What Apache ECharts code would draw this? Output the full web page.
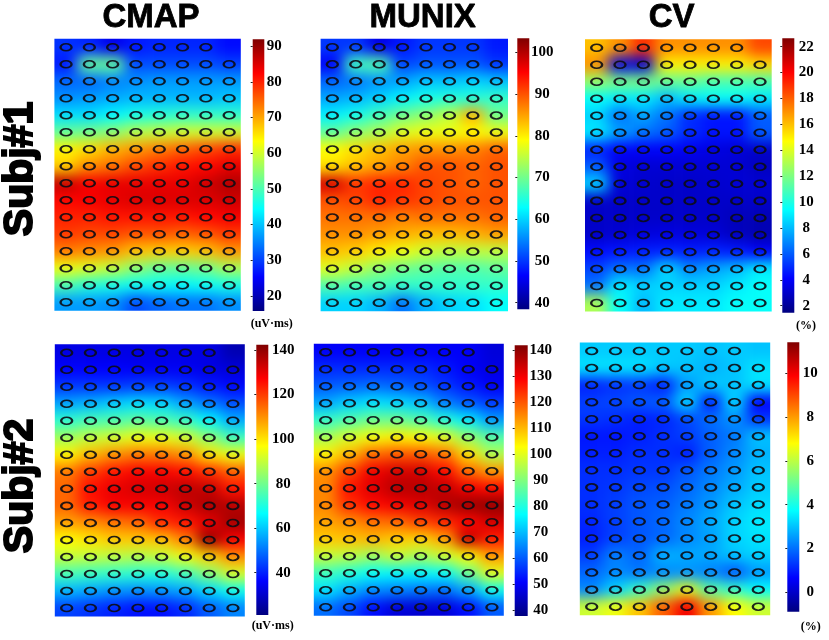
<!DOCTYPE html>
<html>
<head>
<meta charset="utf-8">
<script src="https://cdn.jsdelivr.net/npm/echarts@6/dist/echarts.min.js"></script>
<style>
  html, body { margin: 0; padding: 0; background: #fff; }
  #page { position: relative; width: 829px; height: 640px; overflow: hidden; }
  #heatClip, #heat, #overlay { position: absolute; left: 0; top: 0; width: 829px; height: 640px; }
  #heat { filter: blur(7px); }
</style>
</head>
<body>
<div id="page">
  <div id="heatClip"><div id="heat"></div></div>
  <div id="overlay"></div>
</div>
<script>
var electrodeCols = ['1', '2', '3', '4', '5', '6', '7', '8'];
var electrodeRows = ['1', '2', '3', '4', '5', '6', '7', '8', '9', '10', '11', '12', '13', '14', '15', '16'];
var columnTitles = ['CMAP', 'MUNIX', 'CV'];
var rowTitles = ['Subj#1', 'Subj#2'];

var cmapSubj1 = [
  [29, 28, 24, 27, 28, 28, 28, 26],
  [27, 52, 52, 31, 31, 31, 31, 30],
  [33, 33, 35, 36, 37, 37, 37, 37],
  [36, 37, 38, 39, 39, 39, 39, 40],
  [42, 42, 44, 46, 47, 48, 48, 48],
  [52, 53, 55, 58, 59, 60, 60, 60],
  [64, 66, 69, 71, 73, 75, 77, 79],
  [67, 72, 74, 77, 79, 81, 82, 84],
  [87, 83, 84, 84, 84, 84, 86, 88],
  [82, 83, 84, 85, 85, 85, 85, 86],
  [80, 80, 81, 81, 81, 81, 82, 83],
  [78, 77, 77, 76, 76, 75, 76, 78],
  [73, 72, 71, 68, 67, 67, 68, 71],
  [62, 61, 59, 55, 52, 52, 53, 57],
  [50, 47, 46, 45, 45, 44, 45, 46],
  [37, 37, 36, 31, 33, 34, 34, 36]
];
var munixSubj1 = [
  [50, 50, 45, 48, 50, 50, 50, 48],
  [46, 67, 68, 51, 52, 52, 52, 50],
  [53, 54, 56, 57, 59, 59, 60, 59],
  [57, 58, 60, 62, 64, 65, 65, 66],
  [62, 64, 67, 70, 72, 75, 84, 70],
  [69, 72, 74, 77, 78, 78, 79, 78],
  [79, 81, 83, 85, 86, 86, 87, 89],
  [81, 83, 85, 87, 90, 90, 89, 90],
  [98, 92, 93, 93, 91, 90, 89, 90],
  [90, 91, 93, 92, 91, 90, 90, 90],
  [88, 88, 88, 87, 88, 88, 88, 89],
  [86, 86, 85, 84, 83, 83, 84, 85],
  [83, 82, 80, 78, 76, 75, 75, 75],
  [77, 75, 72, 70, 69, 68, 68, 69],
  [68, 67, 67, 66, 66, 66, 66, 66],
  [60, 60, 58, 54, 58, 60, 61, 63]
];
var cvSubj1 = [
  [16, 17, 19, 17, 17, 17, 17, 18.5],
  [17, 3.5, 3.2, 15, 15, 15, 15, 15.5],
  [12.5, 12, 12, 11.5, 11.5, 11, 11, 11],
  [9.5, 9, 9, 8, 9, 9.5, 9.5, 9],
  [8.5, 6.5, 7.5, 6.5, 5, 4.5, 4.5, 6],
  [9, 7.5, 6.5, 6, 5, 4.5, 4.5, 6],
  [4.8, 4, 4, 4, 3.8, 3.5, 3.3, 3],
  [6, 3.5, 3.2, 3.2, 3.2, 3.2, 3.2, 2.8],
  [8.5, 3.3, 3.1, 3, 3, 3.1, 3.2, 3.2],
  [3, 3, 3, 3, 3, 3, 3, 3],
  [3, 3, 3, 3, 3, 3, 2.7, 2.6],
  [3, 3.2, 3.4, 3.5, 3.4, 3.3, 2.8, 2.5],
  [4.3, 4.5, 4.7, 4.8, 4.7, 4.8, 4.6, 4],
  [5.5, 6.5, 6.5, 8.5, 7, 7.5, 8, 9],
  [6.5, 9, 8.5, 8.5, 8.5, 8.5, 9, 9.5],
  [13, 9.5, 8, 9, 9, 9, 9.5, 9.5]
];
var cmapSubj2 = [
  [33, 33, 33, 33, 33, 33, 33, 27],
  [36, 36, 36, 35, 35, 35, 33, 32],
  [43, 43, 43, 44, 44, 42, 39, 37],
  [56, 58, 61, 63, 62, 56, 51, 46],
  [72, 75, 76, 78, 76, 73, 66, 57],
  [86, 90, 92, 95, 95, 92, 84, 74],
  [98, 105, 110, 113, 113, 110, 100, 95],
  [113, 120, 125, 128, 128, 126, 122, 116],
  [115, 126, 130, 132, 133, 135, 134, 125],
  [115, 124, 128, 128, 128, 133, 137, 136],
  [108, 110, 113, 115, 122, 125, 130, 138],
  [97, 100, 103, 103, 104, 112, 140, 128],
  [90, 90, 89, 88, 90, 95, 102, 110],
  [75, 73, 72, 71, 70, 74, 82, 92],
  [58, 56, 54, 53, 54, 56, 62, 68],
  [44, 42, 40, 38, 38, 41, 47, 52]
];
var munixSubj2 = [
  [50, 50, 50, 50, 50, 50, 50, 47],
  [55, 55, 55, 55, 55, 53, 50, 48],
  [60, 61, 62, 61, 59, 56, 53, 50],
  [68, 72, 74, 73, 71, 64, 60, 57],
  [82, 85, 88, 88, 85, 80, 75, 67],
  [94, 99, 102, 104, 103, 100, 92, 85],
  [104, 110, 118, 120, 120, 117, 106, 95],
  [114, 122, 130, 133, 133, 128, 118, 113],
  [115, 127, 132, 136, 136, 135, 130, 128],
  [115, 124, 128, 130, 132, 136, 139, 140],
  [112, 114, 117, 118, 122, 125, 128, 133],
  [108, 109, 110, 108, 107, 112, 135, 126],
  [97, 96, 93, 97, 94, 98, 103, 113],
  [83, 80, 77, 76, 76, 77, 87, 100],
  [74, 69, 65, 64, 63, 62, 68, 78],
  [62, 58, 52, 47, 46, 47, 52, 60]
];
var cvSubj2 = [
  [3.1, 3.1, 3.1, 3.1, 3.1, 3, 3.1, 3],
  [3.4, 3.4, 3.4, 3.1, 3, 2.8, 3, 3.4],
  [1, 1.2, 1.3, 1, 2.5, 3.1, 3, 3.4],
  [1.4, 1.5, 1.7, 1.8, 3.2, 1, 3.2, 0.6],
  [1.3, 1.2, 1, 1.1, 1.5, 2, 2.4, 1.3],
  [0.9, 0.9, 1, 1.2, 1.4, 1.8, 2.1, 3],
  [1, 1, 1.2, 1.2, 1, 1.8, 2.3, 2.8],
  [1.2, 1.2, 1.3, 1.3, 1.7, 2.1, 2.5, 3],
  [1.2, 1.3, 1.5, 1.6, 1.9, 2.3, 2.7, 3.1],
  [1.2, 1.4, 1.7, 1.8, 2.1, 2.5, 3, 3.3],
  [1.1, 1.4, 1.7, 1.9, 2.3, 2.7, 3.2, 3.5],
  [1, 1.4, 1.7, 1.9, 2.3, 2.6, 3.2, 3.4],
  [1.4, 2.2, 1.9, 2.8, 2.7, 2.7, 3, 3.2],
  [1.9, 2.3, 2.1, 2.3, 2.4, 2.2, 1.7, 2.5],
  [2.3, 3.2, 4.4, 5.5, 6.5, 4.8, 4.3, 3.7],
  [6.2, 6.6, 7.5, 8.7, 10, 8, 6.8, 6.2]
];

var ticksCmap1 = [20, 30, 40, 50, 60, 70, 80, 90];
var ticksMunix1 = [40, 50, 60, 70, 80, 90, 100];
var ticksCv1 = [2, 4, 6, 8, 10, 12, 14, 16, 18, 20, 22];
var ticksCmap2 = [40, 60, 80, 100, 120, 140];
var ticksMunix2 = [40, 50, 60, 70, 80, 90, 100, 110, 120, 130, 140];
var ticksCv2 = [0, 2, 4, 6, 8, 10];

var jet = ['#00007f', '#0000ff', '#007fff', '#00ffff', '#7fff7f', '#ffff00', '#ff7f00', '#ff0000', '#7f0000'];

// one entry per panel, left to right then second row
var panels = [
  { data: cmapSubj1,  ticks: ticksCmap1,  min: 15.8,  max: 91.9,  rect: [54.4, 38.8, 186.4, 272],   bar: [252.7, 39.3, 11.6, 271.7], gap: 10 },
  { data: munixSubj1, ticks: ticksMunix1, min: 38.4,  max: 103.4, rect: [320.6, 38.8, 187.4, 272.4], bar: [517.3, 38.3, 12, 271],    gap: 13 },
  { data: cvSubj1,    ticks: ticksCv1,    min: 1.46,  max: 22.65, rect: [585, 39.2, 186.7, 272.3],  bar: [782.3, 38.3, 12, 274.4],   gap: 12 },
  { data: cmapSubj2,  ticks: ticksCmap2,  min: 21,    max: 142.4, rect: [54.8, 344.2, 190, 272.3],  bar: [256.3, 344.7, 12, 270.3],  gap: 15 },
  { data: munixSubj2, ticks: ticksMunix2, min: 37.7,  max: 141.8, rect: [313.8, 343.8, 190, 272],   bar: [514.7, 345.3, 13, 270.7],  gap: 13 },
  { data: cvSubj2,    ticks: ticksCv2,    min: -0.88, max: 11.4,  rect: [579.8, 342.5, 190.4, 272.7], bar: [787.3, 342.3, 12, 269.4], gap: 11 }
];

// heat cells get one extra cell round the edge (nearest value) so the blur
// does not fade out to white inside the clipped panel
function paddedCells(matrix) {
  var out = [];
  for (var r = -1; r <= electrodeRows.length; r++) {
    for (var c = -1; c <= electrodeCols.length; c++) {
      var rr = Math.max(0, Math.min(electrodeRows.length - 1, r));
      var cc = Math.max(0, Math.min(electrodeCols.length - 1, c));
      out.push([c + 1, r + 1, matrix[rr][cc]]);
    }
  }
  return out;
}

var paddedX = [''].concat(electrodeCols, ['']);
var paddedY = [''].concat(electrodeRows, ['']);

var heatOption = { animation: false, grid: [], xAxis: [], yAxis: [], visualMap: [], series: [] };
var clipPath = '';
panels.forEach(function (p, i) {
  var r = p.rect;
  var cw = r[2] / electrodeCols.length, ch = r[3] / electrodeRows.length;
  clipPath += 'M' + r[0] + ' ' + r[1] + 'H' + (r[0] + r[2]) + 'V' + (r[1] + r[3]) + 'H' + r[0] + 'Z';
  heatOption.grid.push({ left: r[0] - cw, top: r[1] - ch, width: r[2] + 2 * cw, height: r[3] + 2 * ch });
  heatOption.xAxis.push({ type: 'category', gridIndex: i, data: paddedX, show: false });
  heatOption.yAxis.push({ type: 'category', gridIndex: i, data: paddedY, inverse: true, show: false });
  heatOption.visualMap.push({ show: false, seriesIndex: i, min: p.min, max: p.max, dimension: 2, inRange: { color: jet } });
  heatOption.series.push({ type: 'heatmap', xAxisIndex: i, yAxisIndex: i, data: paddedCells(p.data), silent: true, progressive: 0 });
});
document.getElementById('heatClip').style.clipPath = "path('" + clipPath + "')";
echarts.init(document.getElementById('heat'), null, { renderer: 'canvas' }).setOption(heatOption);

var overlayOption = { animation: false, grid: [], xAxis: [], yAxis: [], series: [], graphic: [] };
var ellipse = 'path://M0 5A10 5 0 1 0 20 5A10 5 0 1 0 0 5Z';
// colour bar runs max at the top to min at the bottom
var barStops = jet.map(function (c, k) {
  return { offset: 1 - k / (jet.length - 1), color: c };
}).reverse();
panels.forEach(function (p, i) {
  var r = p.rect, b = p.bar;
  // electrode grid
  overlayOption.grid.push({ left: r[0], top: r[1], width: r[2], height: r[3] });
  overlayOption.xAxis.push({ type: 'category', gridIndex: i * 2, data: electrodeCols, show: false });
  overlayOption.yAxis.push({ type: 'category', gridIndex: i * 2, data: electrodeRows, inverse: true, show: false });
  var points = [];
  electrodeRows.forEach(function (row, ri) {
    electrodeCols.forEach(function (col, ci) {
      if (ri === 0 && ci === electrodeCols.length - 1) return; // no electrode in that corner
      points.push([col, row]);
    });
  });
  overlayOption.series.push({
    type: 'scatter', xAxisIndex: i * 2, yAxisIndex: i * 2, data: points, silent: true,
    symbol: ellipse, symbolSize: [11, 7],
    itemStyle: { color: 'rgba(0,0,0,0)', borderColor: '#0c0c14', borderWidth: 1.9, opacity: 0.9 }
  });
  // colour bar scale
  overlayOption.grid.push({ left: b[0], top: b[1], width: b[2], height: b[3] });
  overlayOption.xAxis.push({ type: 'value', gridIndex: i * 2 + 1, show: false, min: 0, max: 1 });
  overlayOption.yAxis.push({
    type: 'value', gridIndex: i * 2 + 1, position: 'right', min: p.min, max: p.max, splitLine: { show: false },
    z: 5,
    axisLine: { show: false },
    axisTick: { show: true, inside: true, length: 2, customValues: p.ticks, lineStyle: { color: '#222', width: 1 } },
    axisLabel: {
      customValues: p.ticks, align: 'center', margin: p.gap, color: '#000',
      fontFamily: 'Liberation Serif', fontWeight: 'bold', fontSize: 15
    }
  });
  overlayOption.graphic.push({
    type: 'rect', silent: true, z: -1,
    shape: { x: b[0], y: b[1], width: b[2], height: b[3] },
    style: { fill: new echarts.graphic.LinearGradient(0, 0, 0, 1, barStops) }
  });
});

function addText(text, x, y, font, rotation, stroke) {
  overlayOption.graphic.push({
    type: 'text', x: x, y: y, rotation: rotation || 0, silent: true,
    style: { text: text, font: font, fill: '#000', stroke: stroke ? '#000' : null, lineWidth: stroke || 0, textAlign: 'center', textVerticalAlign: 'middle' }
  });
}
var sansBold = 'bold 33px "Liberation Sans"';
addText(columnTitles[0], 151, 18, sansBold, 0, 0.8);
addText(columnTitles[1], 422.7, 18, sansBold, 0, 0.8);
addText(columnTitles[2], 671.7, 18, sansBold, 0, 0.8);
addText(rowTitles[0], 21, 169, 'bold 41px "Liberation Sans"', Math.PI / 2, 2);
addText(rowTitles[1], 21, 486, 'bold 41px "Liberation Sans"', Math.PI / 2, 2);
var unitFont = 'bold 12px "Liberation Serif"';
addText('(uV·ms)', 271.7, 324, unitFont);
addText('(%)', 806, 326, unitFont);
addText('(uV·ms)', 272.7, 625.7, unitFont);
addText('(%)', 810.7, 626.7, unitFont);

echarts.init(document.getElementById('overlay'), null, { renderer: 'canvas' }).setOption(overlayOption);
</script>
</body>
</html>
